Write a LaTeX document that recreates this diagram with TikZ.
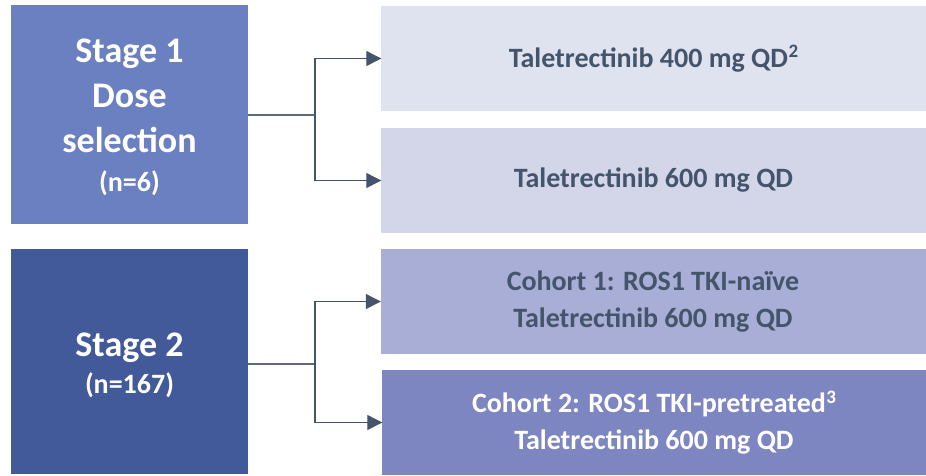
\documentclass[tikz,border=0pt]{standalone}
\usepackage{fontspec}
\setmainfont{Carlito}
\usetikzlibrary{arrows.meta}

\definecolor{stageone}{HTML}{6A80C0}
\definecolor{stagetwo}{HTML}{42599A}
\definecolor{armA}{HTML}{DFE3F0}
\definecolor{armB}{HTML}{D3D6E9}
\definecolor{armC}{HTML}{A8AED6}
\definecolor{armD}{HTML}{7E86C2}
\definecolor{slate}{HTML}{44546A}
\definecolor{wire}{HTML}{5A6880}

\tikzset{
  stagebox/.style={fill=#1, minimum width=237pt, inner sep=0pt},
  stagetext/.style={text=white, align=center, inner sep=0pt,
    font=\bfseries\fontsize{36}{45}\selectfont},
  armbox/.style={fill=#1, minimum width=545pt, minimum height=105pt,
    inner sep=0pt, align=center, font=\bfseries\fontsize{28}{37}\selectfont},
  link/.style={draw=wire, line width=1.2pt},
  arrowlink/.style={link, -{Triangle[length=15pt,width=15pt]}, shorten >=-0.5pt, draw=slate},
}
\newcommand{\supmark}[1]{\kern0.5pt\raisebox{0.34em}{\fontsize{19}{19}\selectfont #1}}

\begin{document}
\begin{tikzpicture}[x=1pt, y=-1pt]
  \useasboundingbox (0,0) rectangle (926,475);

  % left stage boxes with their captions
  \node[stagebox=stageone, minimum height=219pt] (s1) at (129.5,114.5) {};
  \node[stagetext] (t1) at (129.5,117)
    {Stage 1\\Dose\\selection\\[-6pt]{\fontsize{28}{32}\selectfont (n=6)}};
  \node[stagebox=stagetwo, minimum height=225pt] (s2) at (129.5,361.5) {};
  \node[stagetext] (t2) at (129.5,365)
    {Stage 2\\[-8pt]{\fontsize{28}{32}\selectfont (n=167)}};

  % treatment arms
  \node[armbox=armA, text=slate] (r1) at (653.5,58.5)
    {Taletrectinib 400 mg QD\supmark{2}};
  \node[armbox=armB, text=slate] (r2) at (653.5,180.5)
    {Taletrectinib 600 mg QD};
  \node[armbox=armC, text=slate] (r3) at (653,301.5)
    {Cohort 1: ROS1 TKI-na\"ive\\Taletrectinib 600 mg QD};
  \node[armbox=armD, text=white, minimum width=544pt] (r4) at (654,422.5)
    {Cohort 2: ROS1 TKI-pretreated\supmark{3}\\Taletrectinib 600 mg QD};

  % branching connectors
  \coordinate (j1) at (315,115);
  \coordinate (j2) at (315,364);
  \draw[link] (s1.east |- j1) -- (j1);
  \draw[arrowlink] (j1) |- (r1.west);
  \draw[arrowlink] (j1) |- (r2.west);
  \draw[link] (s2.east |- j2) -- (j2);
  \draw[arrowlink] (j2) |- (r3.west);
  \draw[arrowlink] (j2) |- (r4.west);
\end{tikzpicture}
\end{document}
